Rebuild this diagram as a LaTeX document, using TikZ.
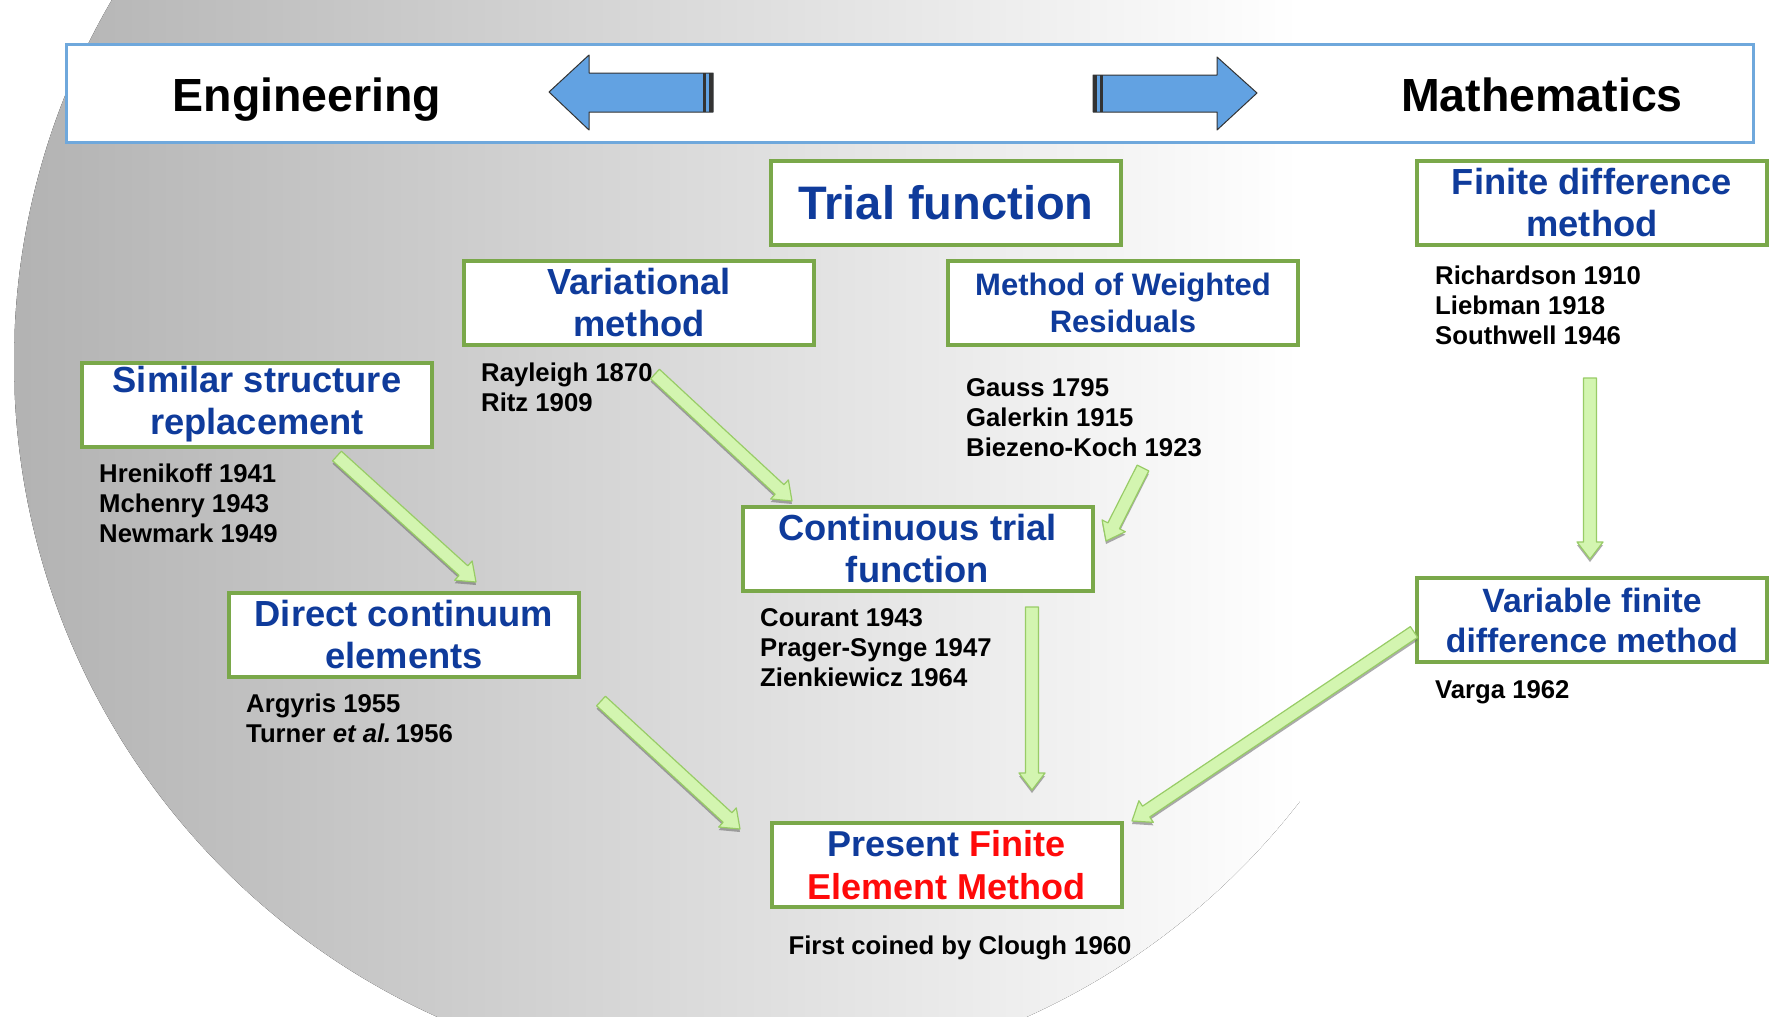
\documentclass[tikz,border=0pt]{standalone}
\usepackage{fontspec}
\setmainfont{Liberation Sans}
\usetikzlibrary{calc}
\definecolor{bandblue}{HTML}{6FA8DC}
\definecolor{arrowblue}{HTML}{62A2E2}
\definecolor{boxgreen}{HTML}{7AA84A}
\definecolor{titleblue}{HTML}{0F3B9B}
\definecolor{flowgreen}{HTML}{D3F5B0}
\definecolor{flowedge}{HTML}{98CC66}
\definecolor{femred}{HTML}{FF0A0A}
\newcommand{\bannerfont}{\fontsize{46.5}{52}\selectfont\bfseries}
\newcommand{\boxfont}{\fontsize{36.3}{42}\selectfont\bfseries}
\newcommand{\mwrfont}{\fontsize{31}{37}\selectfont\bfseries}
\newcommand{\notefont}{\fontsize{25.7}{30}\selectfont\bfseries}
% block arrow outline: tail, tip, head base
\newcommand{\arrowpath}[3]{($(#1)!6.5pt!90:(#2)$) -- ($(#3)!6.5pt!90:(#2)$) -- ($(#3)!13pt!90:(#2)$) -- (#2) -- ($(#3)!13pt!-90:(#2)$) -- ($(#3)!6.5pt!-90:(#2)$) -- ($(#1)!6.5pt!-90:(#2)$) -- cycle}
\newcommand{\flowarrow}[2]{%
  \coordinate (fs) at ($(#1)+(0,3)$); \coordinate (ft) at ($(#2)+(0,3)$);
  \coordinate (fh) at ($(ft)!17pt!(fs)$);
  \fill[flowshadow] \arrowpath{fs}{ft}{fh};
  \coordinate (fh) at ($(#2)!17pt!(#1)$);
  \draw[flowfill] \arrowpath{#1}{#2}{fh};}

\begin{document}
\begin{tikzpicture}[x=1pt,y=-1pt,
box/.style={draw=boxgreen,line width=4pt,fill=white,minimum width=350pt,minimum height=84pt,inner sep=2pt,align=center,text=titleblue,font=\boxfont},
note/.style={anchor=north west,inner sep=0pt,align=left,font=\notefont},
band/.style={draw=bandblue,line width=3.5pt,fill=white,minimum width=1687pt,minimum height=98pt},
bandarrow/.style={fill=arrowblue,draw=black!80,line width=1pt,line join=round},
flowfill/.style={fill=flowgreen,draw=flowedge,line width=1.2pt,line join=round},
flowshadow/.style={fill=black!60,opacity=0.55}]
\useasboundingbox (0,0) rectangle (1778,1017);
\fill[white] (0,0) rectangle (1778,1017);
\begin{scope}
\clip (732,362) circle (718);
\fill[left color=black!30,right color=white] (14,-20) rectangle (1300,1040);
\end{scope}
% banner
\node[band] (banner) at (910,93.5) {};
\node[font=\bannerfont,anchor=base] (eng) at (307,111) {Engineering};
\node[font=\bannerfont,anchor=base] (math) at (1542,111) {Mathematics};
\draw[bandarrow] (549,92) -- (589,55) -- (589,73) -- (713,73) -- (713,112) -- (589,112) -- (589,130) -- cycle;
\fill[black!80] (703,73) rectangle (706,112); \fill[black!80] (709,73) rectangle (713,112);
\draw[bandarrow] (1257,93) -- (1217,57) -- (1217,75) -- (1093,75) -- (1093,112) -- (1217,112) -- (1217,130) -- cycle;
\fill[black!80] (1093,75) rectangle (1097,112); \fill[black!80] (1100,75) rectangle (1103,112);
% boxes
\node[box,font=\fontsize{47}{52}\selectfont\bfseries] (trial) at (946,202.5) {Trial function};
\node[box] (fdm) at (1592,202.5) {Finite difference\\method};
\node[box] (var) at (639,303) {Variational\\method};
\node[box,font=\mwrfont] (mwr) at (1123,303) {Method of Weighted\\Residuals};
\node[box] (ssr) at (257,404.5) {Similar structure\\replacement};
\node[box] (ctf) at (917.5,548.5) {Continuous trial\\function};
\node[box] (dce) at (404,634.5) {Direct continuum\\elements};
\node[box,font=\fontsize{33.7}{40}\selectfont\bfseries] (vfdm) at (1592,620) {Variable finite\\difference method};
\node[box,font=\fontsize{36}{43}\selectfont\bfseries] (pfem) at (946.5,865) {Present {\color{femred}Finite}\\{\color{femred}Element Method}};
% references
\node[note] (ray) at (481,363) {Rayleigh 1870\\Ritz 1909};
\node[note] (gauss) at (966,378) {Gauss 1795\\Galerkin 1915\\Biezeno-Koch 1923};
\node[note] (rich) at (1435,266) {Richardson 1910\\Liebman 1918\\Southwell 1946};
\node[note] (hren) at (99,464) {Hrenikoff 1941\\Mchenry 1943\\Newmark 1949};
\node[note] (cour) at (760,608) {Courant 1943\\Prager-Synge 1947\\Zienkiewicz 1964};
\node[note] (arg) at (246,694) {Argyris 1955\\Turner \textit{et al.}\,1956};
\node[note] (varga) at (1435,680) {Varga 1962};
\node[font=\notefont] (clough) at (960,948) {First coined by Clough 1960};
% flow arrows
\coordinate (a1) at (337,456); \coordinate (b1) at (476,582);
\coordinate (a2) at (655,374); \coordinate (b2) at (792,501);
\coordinate (a3) at (1143,468); \coordinate (b3) at (1106,541);
\coordinate (a4) at (1590,378); \coordinate (b4) at (1590,559);
\coordinate (a5) at (1032,607); \coordinate (b5) at (1032,790);
\coordinate (a6) at (601,701); \coordinate (b6) at (740,829);
\coordinate (a7) at (1414,632); \coordinate (b7) at (1132,821);
\flowarrow{a1}{b1}
\flowarrow{a2}{b2}
\flowarrow{a3}{b3}
\flowarrow{a4}{b4}
\flowarrow{a5}{b5}
\flowarrow{a6}{b6}
\flowarrow{a7}{b7}
\end{tikzpicture}
\end{document}
